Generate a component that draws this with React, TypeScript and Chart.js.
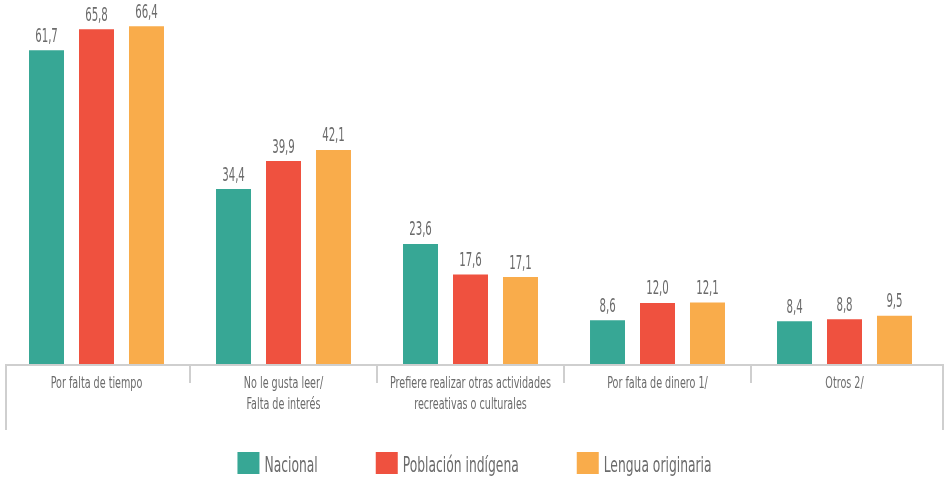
import React, { useEffect, useRef } from 'react';
import { Chart, registerables } from 'chart.js';

Chart.register(...registerables);

const categories: string[][] = [
  ['Por falta de tiempo'],
  ['No le gusta leer/', 'Falta de interés'],
  ['Prefiere realizar otras actividades', 'recreativas o culturales'],
  ['Por falta de dinero 1/'],
  ['Otros 2/'],
];
const seriesNames = ['Nacional', 'Población indígena', 'Lengua originaria'];
const nacional = [61.7, 34.4, 23.6, 8.6, 8.4];
const poblacionIndigena = [65.8, 39.9, 17.6, 12.0, 8.8];
const lenguaOriginaria = [66.4, 42.1, 17.1, 12.1, 9.5];
const seriesColors = ['#37a795', '#ef513f', '#f9ac4b'];

const FONT = '"DejaVu Sans Condensed", "DejaVu Sans", sans-serif';
const TEXT_COLOR = '#6b6b6b';
const AXIS_COLOR = '#cfcfcf';

function measure(ctx: CanvasRenderingContext2D, text: string, size: number) {
  ctx.save();
  ctx.font = `${size}px ${FONT}`;
  const w = ctx.measureText(text).width;
  ctx.restore();
  return w;
}

// horizontal condensation so that a sample string gets the reference's width
function fitScale(ctx: CanvasRenderingContext2D, sample: string, size: number, target: number) {
  return target / measure(ctx, sample, size);
}

function drawText(ctx: CanvasRenderingContext2D, text: string, x: number, y: number, size: number, sx: number, align: CanvasTextAlign) {
  ctx.save();
  ctx.font = `${size}px ${FONT}`;
  ctx.fillStyle = TEXT_COLOR;
  ctx.textAlign = align;
  ctx.textBaseline = 'alphabetic';
  ctx.translate(x, y);
  ctx.scale(sx, 1);
  ctx.fillText(text, 0, 0);
  ctx.restore();
}

const decorPlugin = {
  id: 'decor',
  afterDatasetsDraw(chart: any) {
    const ctx: CanvasRenderingContext2D = chart.ctx;
    const area = chart.chartArea;
    const xs = chart.scales.x;
    const base = area.bottom;

    // axis lines
    ctx.save();
    ctx.strokeStyle = AXIS_COLOR;
    ctx.lineWidth = 2;
    const leftX = area.left + 3;
    const rightX = area.right + 5;
    ctx.beginPath();
    ctx.moveTo(leftX - 1, base + 1);
    ctx.lineTo(rightX + 1, base + 1);
    ctx.stroke();
    ctx.beginPath();
    ctx.moveTo(leftX, base);
    ctx.lineTo(leftX, base + 66);
    ctx.moveTo(rightX, base);
    ctx.lineTo(rightX, base + 66);
    for (let i = 0; i < categories.length - 1; i++) {
      const mx = (xs.getPixelForValue(i) + xs.getPixelForValue(i + 1)) / 2;
      ctx.moveTo(mx, base);
      ctx.lineTo(mx, base + 19);
    }
    ctx.stroke();
    ctx.restore();

    // value labels
    const vSize = 18.8;
    const vsx = fitScale(ctx, '34,4', vSize, 22.7);
    chart.data.datasets.forEach((ds: any, di: number) => {
      const meta = chart.getDatasetMeta(di);
      meta.data.forEach((bar: any, i: number) => {
        const v = ds.data[i] as number;
        const txt = v.toFixed(1).replace('.', ',');
        drawText(ctx, txt, bar.x, bar.y - 8.5, vSize, vsx, 'center');
      });
    });

    // category labels
    const cSize = 16;
    const csx = fitScale(ctx, 'Prefiere realizar otras actividades', cSize, 161);
    categories.forEach((lines, i) => {
      const cx = xs.getPixelForValue(i);
      lines.forEach((ln, j) => {
        drawText(ctx, ln, cx, base + 24 + j * 21, cSize, csx, 'center');
      });
    });

    // legend
    const lSize = 21.5;
    const lsx = fitScale(ctx, 'Población indígena', lSize, 116);
    const sq = 22;
    const gapText = 5;
    const gapItem = 58;
    const widths = seriesNames.map((n) => sq + gapText + measure(ctx, n, lSize) * lsx);
    const total = widths.reduce((a, b) => a + b, 0) + gapItem * (seriesNames.length - 1);
    let x = 474.5 - total / 2;
    const sqTop = 452;
    seriesNames.forEach((n, i) => {
      ctx.save();
      ctx.fillStyle = seriesColors[i];
      ctx.fillRect(x, sqTop, sq, sq);
      ctx.restore();
      drawText(ctx, n, x + sq + gapText, sqTop + 19.5, lSize, lsx, 'left');
      x += widths[i] + gapItem;
    });
  },
};

export default function App() {
  const ref = useRef<HTMLCanvasElement | null>(null);
  useEffect(() => {
    if (!ref.current) return;
    const chart = new Chart(ref.current, {
      type: 'bar',
      data: {
        labels: categories.map((c) => c.join(' ')),
        datasets: [nacional, poblacionIndigena, lenguaOriginaria].map((d, i) => ({
          label: seriesNames[i],
          data: d,
          backgroundColor: seriesColors[i],
          borderWidth: 0,
          categoryPercentage: 0.802,
          barPercentage: 0.7,
        })),
      },
      options: {
        responsive: false,
        animation: false,
        events: [],
        layout: { padding: { left: 3, right: 7, top: 8, bottom: 114 } },
        scales: {
          x: { display: false },
          y: { display: false, min: 0, max: 70 },
        },
        plugins: {
          legend: { display: false },
          tooltip: { enabled: false },
        },
      },
      plugins: [decorPlugin],
    });
    return () => chart.destroy();
  }, []);
  return (
    <div style={{ position: 'absolute', left: 0, top: 0, width: 945, height: 478, background: '#fff' }}>
      <canvas ref={ref} width={945} height={478} style={{ display: 'block' }} />
    </div>
  );
}
